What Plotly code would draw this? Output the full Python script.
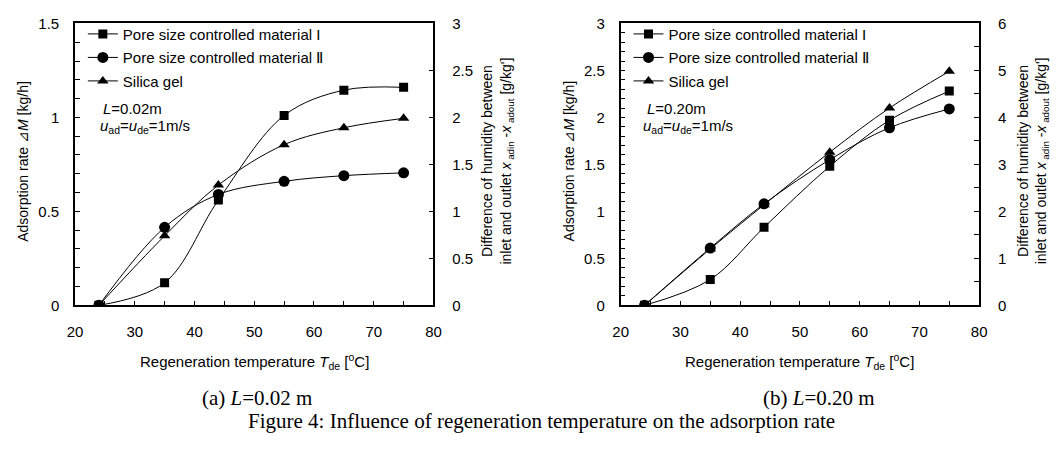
import plotly.graph_objects as go

W, H = 1062, 449

temps = [24, 35, 44, 55, 65, 75]
series_names = ["Pore size controlled material I", "Pore size controlled material Ⅱ", "Silica gel"]

# (a) L = 0.02 m  -- adsorption rate [kg/h]
a_mat1 = [0.0, 0.12, 0.56, 1.01, 1.145, 1.16]
a_mat2 = [0.0, 0.415, 0.59, 0.66, 0.69, 0.705]
a_silica = [0.0, 0.37, 0.64, 0.855, 0.945, 0.995]

# (b) L = 0.20 m
b_mat1 = [0.0, 0.275, 0.83, 1.48, 1.97, 2.28]
b_mat2 = [0.0, 0.61, 1.08, 1.55, 1.89, 2.09]
b_silica = [0.0, 0.60, 1.07, 1.63, 2.10, 2.49]

# humidity difference axis = 2 x adsorption rate (same curves, right-hand scale)
HUM_FACTOR = 2.0

symbols = ["square", "circle", "triangle-up"]
msizes = [9, 11, 10]

FONT = "Liberation Sans"
SERIF = "Liberation Serif"
FS = 15


def px_x(p):
    return p / W


def px_y(p):
    return 1 - p / H


fig = go.Figure()

for i, (name, ys) in enumerate(zip(series_names, [a_mat1, a_mat2, a_silica])):
    fig.add_trace(go.Scatter(
        x=temps, y=ys, name=name, mode="lines+markers",
        line=dict(color="black", width=1, shape="spline", smoothing=1),
        marker=dict(symbol=symbols[i], size=msizes[i], color="black"),
        xaxis="x", yaxis="y", legend="legend", legendgroup=f"a{i}",
    ))

for i, (name, ys) in enumerate(zip(series_names, [b_mat1, b_mat2, b_silica])):
    fig.add_trace(go.Scatter(
        x=temps, y=ys, name=name, mode="lines+markers",
        line=dict(color="black", width=1, shape="spline", smoothing=1),
        marker=dict(symbol=symbols[i], size=msizes[i], color="black"),
        xaxis="x2", yaxis="y3", legend="legend2", legendgroup=f"b{i}",
    ))

# invisible copies on the right-hand (humidity) axes so those axes are drawn
for ys, xa, ya in [(a_mat1, "x", "y2"), (b_mat1, "x2", "y4")]:
    fig.add_trace(go.Scatter(
        x=temps, y=[v * HUM_FACTOR for v in ys], mode="lines",
        line=dict(width=0, color="rgba(0,0,0,0)"), opacity=0,
        xaxis=xa, yaxis=ya, showlegend=False, hoverinfo="skip",
    ))

ydom = [px_y(308), px_y(15)]
xdomA = [px_x(68), px_x(432)]
xdomB = [px_x(622), px_x(986)]

common_x = dict(
    range=[20, 80], tickvals=[20, 30, 40, 50, 60, 70, 80],
    ticks="inside", ticklen=5, tickcolor="black", tickwidth=1,
    minor=dict(tickvals=[25, 35, 45, 55, 65, 75], ticks="inside", ticklen=5, tickcolor="black"),
    showline=True, linecolor="black", linewidth=1.5, mirror=True,
    showgrid=False, zeroline=False, ticklabelstandoff=12,
    tickfont=dict(family=FONT, size=FS, color="black"),
)


def yleft(rng, dt, mdt, anchor):
    return dict(
        range=rng, dtick=dt, tick0=0, anchor=anchor,
        ticks="inside", ticklen=5, tickcolor="black", tickwidth=1,
        minor=dict(dtick=mdt, tick0=0, ticks="inside", ticklen=5, tickcolor="black"),
        showline=True, linecolor="black", linewidth=1.5,
        showgrid=False, zeroline=False, ticklabelstandoff=11,
        tickfont=dict(family=FONT, size=FS, color="black"), domain=ydom,
    )


def yright(rng, dt, mdt, overlay, anchor):
    d = dict(
        range=rng, dtick=dt, tick0=0, overlaying=overlay, side="right", anchor=anchor,
        ticks="inside", ticklen=5, tickcolor="black", tickwidth=1,
        showline=True, linecolor="black", linewidth=1.5,
        showgrid=False, zeroline=False, ticklabelstandoff=14,
        tickfont=dict(family=FONT, size=FS, color="black"),
    )
    if mdt:
        d["minor"] = dict(dtick=mdt, tick0=0, ticks="inside", ticklen=5, tickcolor="black")
    return d


legend_common = dict(
    font=dict(family=FONT, size=FS, color="black"),
    bgcolor="rgba(0,0,0,0)", borderwidth=0,
    xanchor="left", yanchor="top", tracegroupgap=1, itemwidth=30,
)

fig.update_layout(
    width=W, height=H,
    margin=dict(l=0, r=0, t=0, b=0),
    paper_bgcolor="white", plot_bgcolor="white",
    xaxis=dict(domain=xdomA, anchor="y", **common_x),
    xaxis2=dict(domain=xdomB, anchor="y3", **common_x),
    yaxis=yleft([0, 1.5], 0.5, 0.1, "x"),
    yaxis2=yright([0, 3], 0.5, None, "y", "x"),
    yaxis3=yleft([0, 3], 0.5, 0.1, "x2"),
    yaxis4=yright([0, 6], 1, 0.5, "y3", "x2"),
    legend=dict(x=px_x(76), y=px_y(9), **legend_common),
    legend2=dict(x=px_x(630), y=px_y(9), **legend_common),
    showlegend=True,
)

ann = []


def add_text(text, x, y, size=FS, family=FONT, angle=0, xanchor="center"):
    ann.append(dict(
        text=text, x=px_x(x), y=px_y(y), xref="paper", yref="paper",
        showarrow=False, textangle=angle, xanchor=xanchor, yanchor="middle",
        font=dict(family=family, size=size, color="black"),
    ))


# axis titles
xt = "Regeneration temperature <i>T</i><sub>de</sub> [<sup>o</sup>C]"
add_text(xt, 250, 366)
add_text(xt, 804, 366)
yt = "Adsorption rate ⊿<i>M</i> [kg/h]"
add_text(yt, 15, 158, size=14, angle=-90)
add_text(yt, 570, 158, size=14, angle=-90)
y2t = ("Difference of humidity between<br>inlet and outlet "
       "<i>x</i><sub> adin</sub> -<i>x</i><sub> adout</sub> [g/kg']")
add_text(y2t, 497, 158, size=14, angle=-90)
add_text(y2t, 1041, 158, size=14, angle=-90)

# condition labels
add_text("<i>L</i>=0.02m", 94, 103, xanchor="left")
add_text("<i>u</i><sub>ad</sub>=<i>u</i><sub>de</sub>=1m/s", 91, 122, xanchor="left")
add_text("<i>L</i>=0.20m", 647, 103, xanchor="left")
add_text("<i>u</i><sub>ad</sub>=<i>u</i><sub>de</sub>=1m/s", 643, 122, xanchor="left")

# captions
add_text("(a) <i>L</i>=0.02 m", 253, 404, size=21, family=SERIF)
add_text("(b) <i>L</i>=0.20 m", 823, 404, size=21, family=SERIF)
add_text("Figure 4: Influence of regeneration temperature on the adsorption rate", 542, 428, size=21, family=SERIF)

fig.update_layout(annotations=ann)

fig.write_html("out.html")
